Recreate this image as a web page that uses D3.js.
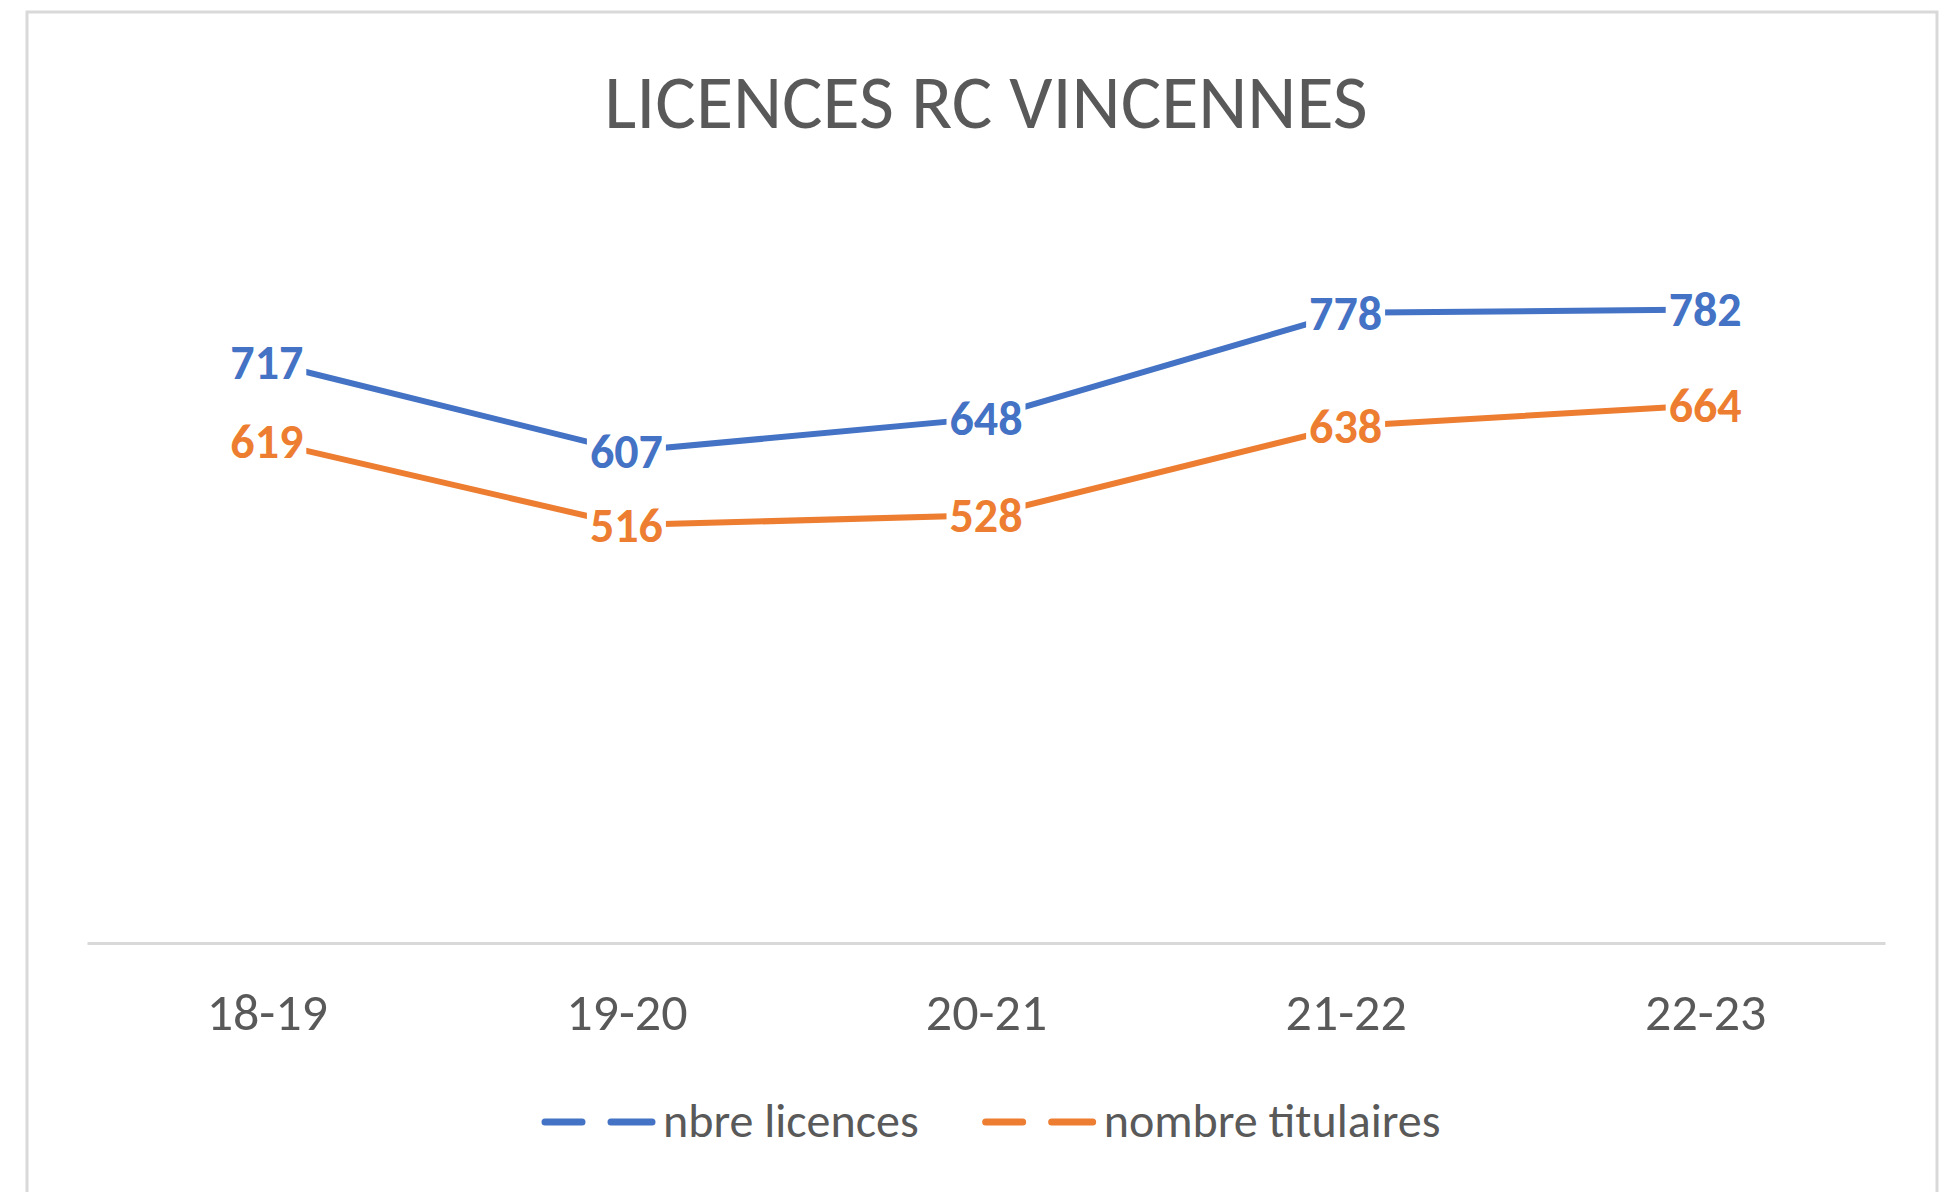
<!DOCTYPE html>
<html>
<head>
<meta charset="utf-8">
<script src="https://cdn.jsdelivr.net/npm/d3@7"></script>
<style>
  html, body { margin: 0; padding: 0; background: #fff; }
  text { font-family: Carlito, Calibri, "Liberation Sans Narrow", "Open Sans", sans-serif; }
</style>
</head>
<body>
<div id="chart"></div>
<script>
const title = "LICENCES RC VINCENNES";
const seasons = ["18-19", "19-20", "20-21", "21-22", "22-23"];
const licences = [717, 607, 648, 778, 782];
const titulaires = [619, 516, 528, 638, 664];
const seriesNames = ["nbre licences", "nombre titulaires"];
const colors = ["#4472C4", "#ED7D31"];

const W = 1944, H = 1192;
const margin = {top: 214, right: 59, bottom: 249, left: 87};
const width = W - margin.left - margin.right,
      height = H - margin.top - margin.bottom;

const svg = d3.select("#chart").append("svg")
    .attr("width", W)
    .attr("height", H);

// outer frame
svg.append("rect")
    .attr("x", 27).attr("y", 12)
    .attr("width", 1910).attr("height", H)
    .attr("fill", "#fff")
    .attr("stroke", "#d9d9d9")
    .attr("stroke-width", 3);

svg.append("text")
    .attr("x", W / 2 + 14)
    .attr("y", 128)
    .attr("text-anchor", "middle")
    .style("font-size", "76px")
    .style("fill", "#595959")
    .text(title);

const g = svg.append("g")
    .attr("transform", "translate(" + margin.left + "," + margin.top + ")");

const x = d3.scalePoint()
    .domain(seasons)
    .range([0, width])
    .padding(0.5);

const y = d3.scaleLinear()
    .domain([0, 900])
    .range([height, 0]);

// x axis
const xAxis = g.append("g")
    .attr("transform", "translate(0," + height + ")")
    .call(d3.axisBottom(x).tickSize(0).tickPadding(50));
xAxis.select(".domain")
    .attr("stroke", "#d9d9d9")
    .attr("stroke-width", 3);
xAxis.selectAll("text")
    .style("font-family", null)
    .style("font-size", "52px")
    .attr("fill", "#595959");

const series = [
  {name: seriesNames[0], values: licences, color: colors[0]},
  {name: seriesNames[1], values: titulaires, color: colors[1]}
];

const line = d3.line()
    .x((d, i) => x(seasons[i]))
    .y(d => y(d));

series.forEach(s => {
  g.append("path")
      .datum(s.values)
      .attr("fill", "none")
      .attr("stroke", s.color)
      .attr("stroke-width", 6)
      .attr("stroke-linejoin", "round")
      .attr("stroke-linecap", "round")
      .attr("d", line);
});

// data labels, centred on the points with a white box behind
series.forEach(s => {
  const lab = g.append("g").selectAll("g")
      .data(s.values)
      .enter().append("g")
      .attr("transform", (d, i) => "translate(" + x(seasons[i]) + "," + y(d) + ")");
  const rects = lab.append("rect").attr("fill", "#fff");
  const txt = lab.append("text")
      .attr("text-anchor", "middle")
      .attr("dy", "0.35em")
      .style("font-size", "48px")
      .style("font-weight", "bold")
      .attr("fill", s.color)
      .text(d => d);
  txt.each(function(d, i) {
    const b = this.getBBox();
    d3.select(rects.nodes()[i])
        .attr("x", b.x - 3).attr("y", b.y + 6)
        .attr("width", b.width + 6).attr("height", b.height - 12);
  });
});

// legend
const legend = svg.append("g")
    .attr("transform", "translate(545,1122)");
let lx = 0;
series.forEach((s, i) => {
  const item = legend.append("g").attr("transform", "translate(" + lx + ",0)");
  item.append("line")
      .attr("x1", 0).attr("x2", 107)
      .attr("stroke", s.color)
      .attr("stroke-width", 7)
      .attr("stroke-linecap", "round")
      .attr("stroke-dasharray", "37 29 41");
  const t = item.append("text")
      .attr("x", 118)
      .attr("dy", "0.32em")
      .style("font-size", "48px")
      .attr("fill", "#595959")
      .text(s.name);
  lx += 118 + t.node().getComputedTextLength() + 67;
});
</script>
</body>
</html>
